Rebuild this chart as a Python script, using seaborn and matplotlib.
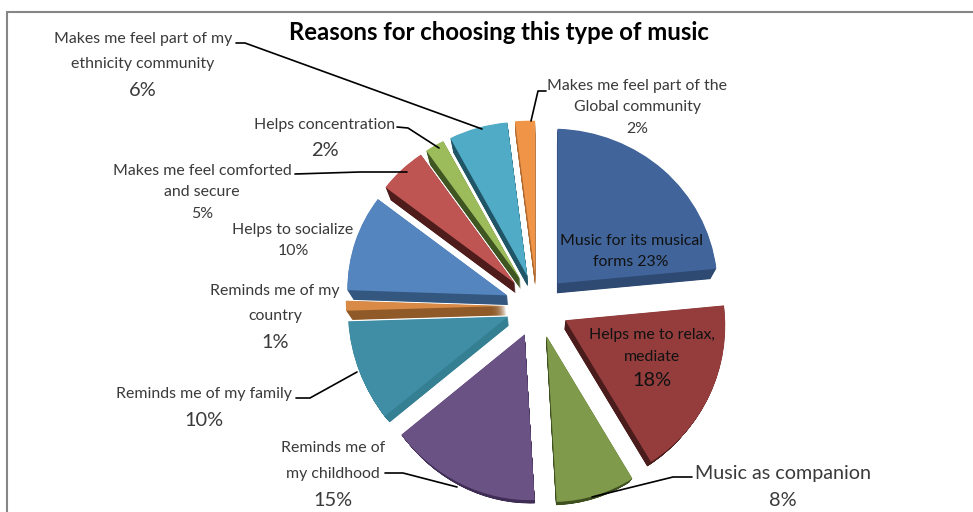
import numpy as np
import matplotlib
matplotlib.use("Agg")
import matplotlib.pyplot as plt
from matplotlib.transforms import Affine2D
import seaborn as sns

# Survey shares, clockwise from twelve o'clock
reasons = ["Music for its musical forms", "Helps me to relax, mediate", "Music as companion",
           "Reminds me of my childhood", "Reminds me of my family", "Reminds me of my country",
           "Helps to socialize", "Makes me feel comforted and secure", "Helps concentration",
           "Makes me feel part of my ethnicity community", "Makes me feel part of the Global community"]
shares = [23, 18, 8, 15, 10, 1, 10, 5, 2, 6, 2]
top_colors = ["#41659A", "#943D3C", "#7E9A4A", "#6A5285", "#3F8EA5", "#D98A46",
              "#5585BF", "#BF5552", "#9CBB5A", "#50ABC6", "#F09448"]
side_colors = ["#2F4A72", "#4A1C1B", "#3F5020", "#3F2D55", "#357F93", "#8F5A28",
               "#33577F", "#4D1C1B", "#3F5522", "#1F5566", "#B06A30"]

sns.set_theme(style="white")
plt.rcParams["font.family"] = ["Lato", "DejaVu Sans"]

W, H = 973, 512
CX, CY = 537, 306
RX = 160.0
BEND = 4.2
EXPLODE = 0.195
TILT = 0.033


def to_px(y):
    y = np.asarray(y, dtype=float)
    return RX * y - BEND * y * y


def from_px(s):
    s = np.asarray(s, dtype=float)
    return (RX - np.sqrt(np.maximum(RX * RX - 4 * BEND * s, 0))) / (2 * BEND)


fig = plt.figure(figsize=(W / 100, H / 100), dpi=100, facecolor="white")

# Pie axes: unit radius, with a gentle vertical scale for the perspective foreshortening
ax = fig.add_axes([0, 0, 1, 1])
explode = [EXPLODE] * len(shares)
flat = {"linewidth": 0, "edgecolor": "none"}
for t in np.linspace(1, 0, 24)[:-1]:
    r = 1 - 0.033 * t
    ax.pie(shares, explode=[e * r for e in explode], radius=r, center=(0, -0.058 * t),
           colors=sns.color_palette(side_colors), startangle=90, counterclock=False,
           wedgeprops=flat)
ax.pie(shares, explode=explode, colors=sns.color_palette(top_colors),
       startangle=90, counterclock=False, wedgeprops=flat)
ax.set_aspect("auto")
ax.set_yscale("function", functions=(to_px, from_px))
ax.set_xlim(-CX / RX, (W - CX) / RX)
ax.set_ylim(float(from_px(CY - H)), float(from_px(CY)))
ax.axis("off")

# Slight sideways tilt of the disc: verticals stay vertical, the right side sits lower
tilt = Affine2D.from_values(1, -TILT, 0, 1, 0, 0) + ax.transData
for wedge in ax.patches:
    wedge.set_transform(tilt)

# Overlay axes in figure pixels for the frame, labels and leader lines
ov = fig.add_axes([0, 0, 1, 1], facecolor="none", zorder=5)
ov.set_xlim(0, W)
ov.set_ylim(H, 0)
ov.axis("off")

ov.plot([7, 7, W + 5], [H + 5, 12, 12], color="#868686", lw=1.5, solid_joinstyle="miter")

ov.text(499, 33, "Reasons for choosing this type of music", ha="center", va="center",
        fontsize=17.2, fontweight="bold", color="black")

GREY = "#3a3a3a"
SMALL = 11.4
BIG = 14.4


def block(x, lines):
    for y, txt, size, col in lines:
        ov.text(x, y + 1, txt, ha="center", va="center", fontsize=size, color=col)


block(143, [(38, "Makes me feel part of my", SMALL, GREY), (63, "ethnicity community", SMALL, GREY),
            (90, f"{shares[9]}%", BIG, GREY)])
block(325, [(124, "Helps concentration", SMALL, GREY), (149, f"{shares[8]}%", BIG, GREY)])
block(202, [(170, "Makes me feel comforted", SMALL, GREY), (191, "and secure", SMALL, GREY),
            (213, f"{shares[7]}%", SMALL, GREY)])
block(293, [(229, "Helps to socialize", SMALL, GREY), (250, f"{shares[6]}%", SMALL, GREY)])
block(275, [(290, "Reminds me of my", SMALL, GREY), (315, "country", SMALL, GREY),
            (342, f"{shares[5]}%", BIG, GREY)])
block(204, [(393, "Reminds me of my family", SMALL, GREY), (419, f"{shares[4]}%", BIG, GREY)])
block(333, [(447, "Reminds me of", SMALL, GREY), (473, "my childhood", SMALL, GREY),
            (499, f"{shares[3]}%", BIG, GREY)])
block(783, [(472, "Music as companion", 14.2, GREY), (499, f"{shares[2]}%", BIG, GREY)])
block(637, [(85, "Makes me feel part of the", SMALL, GREY), (106, "Global community", SMALL, GREY),
            (128, f"{shares[10]}%", SMALL, GREY)])
block(631, [(240, "Music for its musical", SMALL, "#111111"), (261, f"forms {shares[0]}%", SMALL, "#111111")])
block(652, [(334, "Helps me to relax,", SMALL, "#111111"), (356, "mediate", SMALL, "#111111"),
            (380, f"{shares[1]}%", BIG, "#111111")])

leaders = [
    ([236, 245, 482], [43, 43, 129]),
    ([397, 408, 439], [127, 128, 148]),
    ([295, 360, 407], [174, 172, 172]),
    ([296, 310, 357], [398, 398, 372]),
    ([385, 403, 457], [473, 473, 487]),
    ([692, 673, 592], [477, 477, 497]),
    ([546, 538, 531], [91, 91, 121]),
]
for xs, ys in leaders:
    ov.plot(xs, ys, color="black", lw=1.2)

fig.savefig("out.png", dpi=100)
